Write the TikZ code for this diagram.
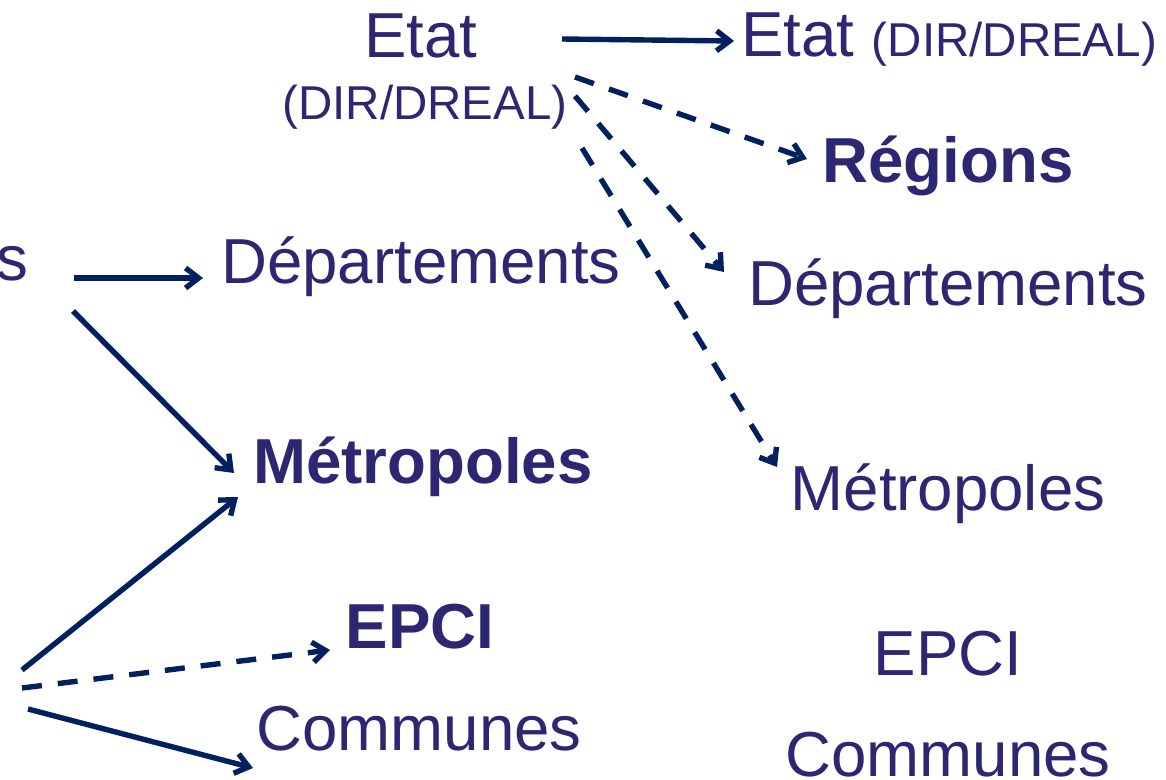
\documentclass[tikz,border=0pt]{standalone}
\usepackage{fontspec}
\setmainfont{Liberation Sans}
\usetikzlibrary{arrows.meta,calc}
\definecolor{txtc}{HTML}{2C2673}
\definecolor{arrc}{HTML}{00205F}
\newcommand\txtbig{\fontsize{63.6}{70}\selectfont}
\newcommand\txtsmall{\fontsize{47.5}{54}\selectfont}
\begin{document}
\begin{tikzpicture}[x=1pt,y=-1pt,
  lbl/.style={inner sep=0pt, anchor=base, text=txtc, font=\txtbig},
  lblb/.style={lbl, font=\txtbig\bfseries},
  arr/.style={draw=arrc, line width=5.4pt, -{Straight Barb[length=13pt,width=20pt]}},
  darr/.style={arr, dash pattern=on 20pt off 16pt}]
\useasboundingbox (0,0) rectangle (1166,779);
% top / right column
\node[lbl] (etatA) at (421,57) {Etat};
\node[lbl, font=\txtsmall] (dirA) at (425,119) {(DIR/DREAL)};
\node[lbl] (etatB) at (949,56) {Etat\ {\txtsmall(DIR/DREAL)}};
\node[lblb] (regB) at (948,182) {Régions};
\node[lbl] (depB) at (948,305) {Départements};
\node[lbl] (metB) at (948,510) {Métropoles};
\node[lbl] (epciB) at (948,675) {EPCI};
\node[lbl] (comB) at (948,776) {Communes};
% left / middle column
\node[lbl, anchor=base east] (sL) at (28,280) {s};
\node[lbl] (depA) at (421,283) {Départements};
\node[lblb] (metA) at (423,483) {Métropoles};
\node[lblb] (epciA) at (420,648) {EPCI};
\node[lbl] (comA) at (419,750) {Communes};
% off-picture sources
\coordinate (c1) at (22,670);
\coordinate (c2) at (22,688);
\coordinate (c3) at (28,709);
% connectors
\draw[arr]  ($(etatA.base)+(141,-18)$) -- ($(etatB.base)+(-215,-15)$);
\draw[darr] ($(dirA.base)+(150,-42)$) -- ($(regB.base)+(-141,-23)$);
\draw[darr] ($(dirA.base)+(150,-23)$) -- ($(depB.base)+(-224,-33)$);
\draw[darr] ($(dirA.base)+(157,29)$) -- ($(metB.base)+(-171,-43)$);
\draw[arr]  ($(sL.base east)+(46,-2)$) -- ($(depA.base)+(-218,-5)$);
\draw[arr]  ($(sL.base east)+(45,31)$) -- ($(metA.base)+(-189,-10)$);
\draw[arr]  (c1) -- ($(metA.base)+(-185,14)$);
\draw[darr] (c2) -- ($(epciA.base)+(-90,2)$);
\draw[arr]  (c3) -- ($(comA.base)+(-166,18)$);
\end{tikzpicture}
\end{document}
